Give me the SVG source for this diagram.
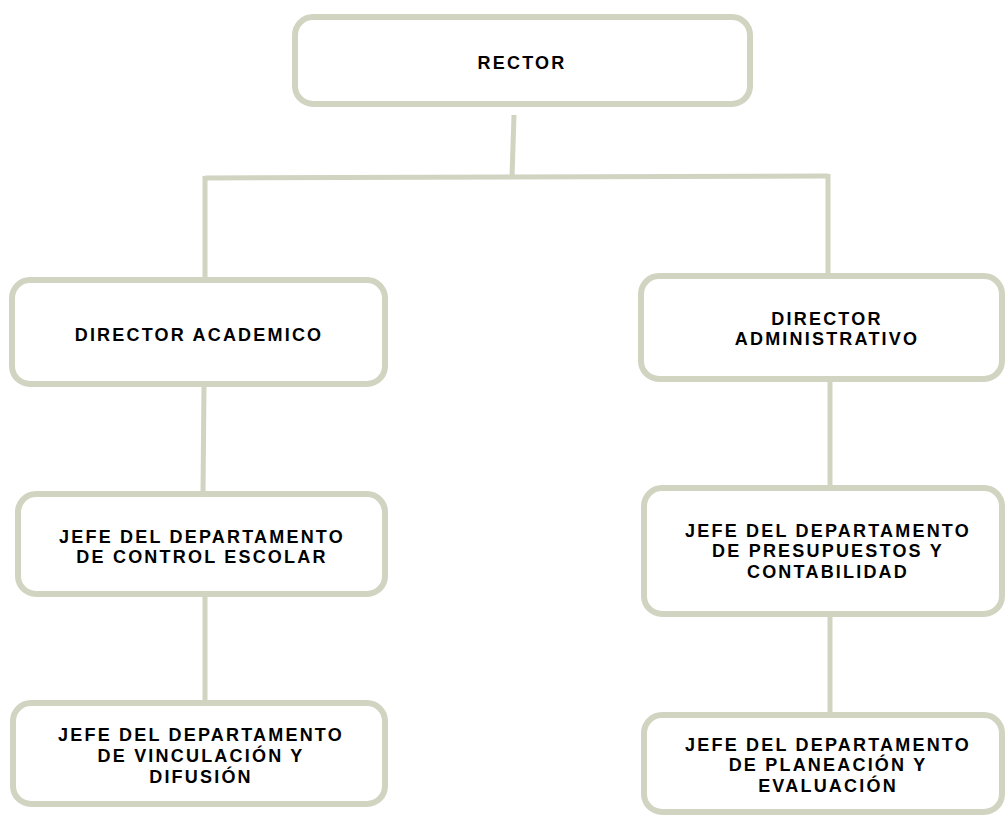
<svg xmlns="http://www.w3.org/2000/svg" width="1005" height="815" viewBox="0 0 1005 815">
<style>
.box{fill:#ffffff;stroke:#d0d4c1;stroke-width:6}
.con{stroke:#d0d4c1;stroke-width:5;fill:none}
.t{font-family:"Liberation Sans",Arial,sans-serif;font-weight:bold;font-size:18px;letter-spacing:2.2px;fill:#000;text-anchor:middle}
</style>
<rect width="1005" height="815" fill="#ffffff"/>
<g id="connectors">
<path class="con" d="M514 115 L512 177"/>
<path class="con" d="M205 178 L828 176"/>
<path class="con" d="M205 176 L205 280"/>
<path class="con" d="M828 174 L828 276"/>
<path class="con" d="M204 385 L203 494"/>
<path class="con" d="M205 595 L205 703"/>
<path class="con" d="M830 380 L830 488"/>
<path class="con" d="M830 613 L830 715"/>
</g>
<g id="rector">
<rect class="box" x="295" y="17" width="455" height="87" rx="18"/>
<text class="t" x="522" y="69">RECTOR</text>
</g>
<g id="director-academico">
<rect class="box" x="12" y="280" width="373" height="104" rx="18"/>
<text class="t" x="199" y="341">DIRECTOR ACADEMICO</text>
</g>
<g id="director-administrativo">
<rect class="box" x="641" y="276" width="361" height="103" rx="18"/>
<text class="t" x="827" y="325">DIRECTOR</text>
<text class="t" x="827" y="345">ADMINISTRATIVO</text>
</g>
<g id="jefe-control-escolar">
<rect class="box" x="18" y="494" width="367" height="100" rx="18"/>
<text class="t" x="202" y="543">JEFE DEL DEPARTAMENTO</text>
<text class="t" x="202" y="563">DE CONTROL ESCOLAR</text>
</g>
<g id="jefe-vinculacion">
<rect class="box" x="13" y="703" width="372" height="101" rx="18"/>
<text class="t" x="201" y="741">JEFE DEL DEPARTAMENTO</text>
<text class="t" x="201" y="762">DE VINCULACIÓN Y</text>
<text class="t" x="201" y="783">DIFUSIÓN</text>
</g>
<g id="jefe-presupuestos">
<rect class="box" x="644" y="488" width="358" height="126" rx="18"/>
<text class="t" x="828" y="537">JEFE DEL DEPARTAMENTO</text>
<text class="t" x="828" y="557">DE PRESUPUESTOS Y</text>
<text class="t" x="828" y="578">CONTABILIDAD</text>
</g>
<g id="jefe-planeacion">
<rect class="box" x="644" y="715" width="358" height="97" rx="18"/>
<text class="t" x="828" y="751">JEFE DEL DEPARTAMENTO</text>
<text class="t" x="828" y="771">DE PLANEACIÓN  Y</text>
<text class="t" x="828" y="792">EVALUACIÓN</text>
</g>
</svg>
